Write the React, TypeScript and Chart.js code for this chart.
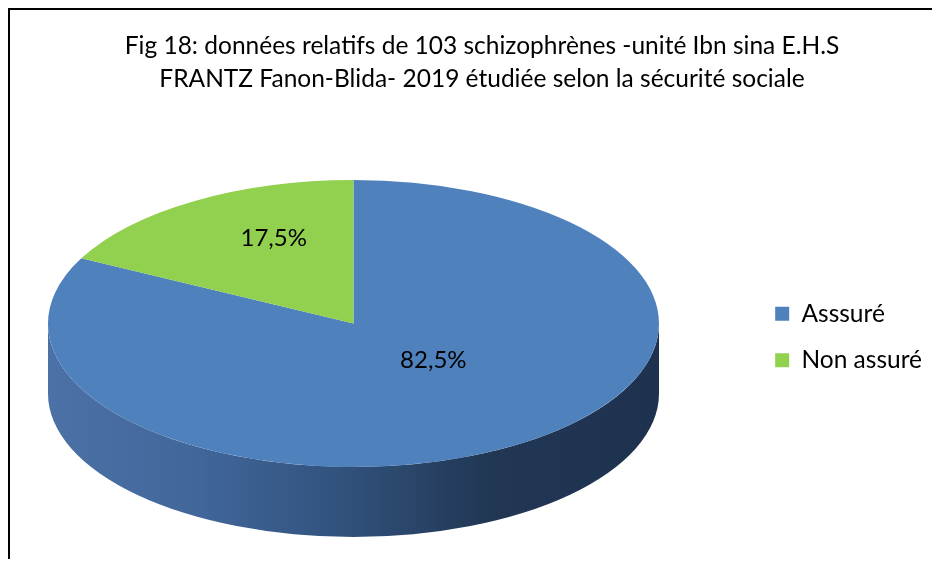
import React, { useEffect, useRef } from "react";
import { Chart, registerables } from "chart.js";

Chart.register(...registerables);

const categories = ["Asssuré", "Non assuré"];
const percentages = [82.5, 17.5];
const sliceColors = ["#4f81bd", "#92d050"];
const titleLines = [
  "Fig 18: données relatifs de 103 schizophrènes -unité Ibn sina E.H.S",
  "FRANTZ Fanon-Blida- 2019 étudiée selon la sécurité sociale",
];

const FONT = "Lato";
const CANVAS_W = 922;
const CANVAS_H = 549;

// 3D look of the pie (screen geometry, canvas coordinates)
const PIE_CX = 343.5;
const PIE_CY = 313.5;
const PIE_RX = 305.5;
const PIE_RY = 143.5;
const PIE_DEPTH = 70;
const LABEL_SHIFT_Y = -24;

const pie3d = {
  id: "pie3d",
  beforeDatasetsDraw(chart: any) {
    const meta = chart.getDatasetMeta(0);
    if (!meta.data.length) return;
    const ctx: CanvasRenderingContext2D = chart.ctx;
    const first = meta.data[0].getProps(["x", "y", "outerRadius"], true);
    const r = first.outerRadius;

    // side wall (front half of the cylinder)
    const grad = ctx.createLinearGradient(PIE_CX - PIE_RX, 0, PIE_CX + PIE_RX, 0);
    grad.addColorStop(0, "#4b71a6");
    grad.addColorStop(0.25, "#40669a");
    grad.addColorStop(0.5, "#30507a");
    grad.addColorStop(0.72, "#213754");
    grad.addColorStop(1, "#1e3250");
    ctx.save();
    meta.data.forEach((arc: any) => {
      const p = arc.getProps(["startAngle", "endAngle"], true);
      for (let k = -1; k <= 1; k++) {
        const lo = Math.max(p.startAngle, k * 2 * Math.PI);
        const hi = Math.min(p.endAngle, k * 2 * Math.PI + Math.PI);
        if (hi <= lo) continue;
        ctx.beginPath();
        ctx.ellipse(PIE_CX, PIE_CY, PIE_RX, PIE_RY, 0, lo, hi, false);
        ctx.lineTo(PIE_CX + PIE_RX * Math.cos(hi), PIE_CY + PIE_RY * Math.sin(hi) + PIE_DEPTH);
        ctx.ellipse(PIE_CX, PIE_CY + PIE_DEPTH, PIE_RX, PIE_RY, 0, hi, lo, true);
        ctx.closePath();
        ctx.fillStyle = arc.options.backgroundColor === sliceColors[0] ? grad : "#6a9a3a";
        ctx.fill();
      }
    });
    ctx.restore();

    // squash the library's pie into an ellipse
    ctx.save();
    ctx.translate(PIE_CX, PIE_CY);
    ctx.scale(PIE_RX / r, PIE_RY / r);
    ctx.translate(-first.x, -first.y);
  },
  afterDatasetsDraw(chart: any) {
    const meta = chart.getDatasetMeta(0);
    if (!meta.data.length) return;
    const ctx: CanvasRenderingContext2D = chart.ctx;
    ctx.restore();
    const first = meta.data[0].getProps(["x", "y", "outerRadius"], true);
    const r = first.outerRadius;
    ctx.save();
    ctx.font = `24px ${FONT}`;
    ctx.fillStyle = "#000";
    ctx.textAlign = "center";
    ctx.textBaseline = "middle";
    meta.data.forEach((arc: any, i: number) => {
      const pos = arc.tooltipPosition(true);
      const x = PIE_CX + ((pos.x - first.x) * PIE_RX) / r;
      const y = PIE_CY + ((pos.y - first.y) * PIE_RY) / r + LABEL_SHIFT_Y;
      const txt = percentages[i].toFixed(1).replace(".", ",") + "%";
      ctx.fillText(txt, x, y);
    });
    ctx.restore();
  },
};

export default function App() {
  const ref = useRef<HTMLCanvasElement>(null);
  useEffect(() => {
    if (!ref.current) return;
    const chart = new Chart(ref.current, {
      type: "pie",
      data: {
        labels: categories,
        datasets: [
          {
            data: percentages,
            backgroundColor: sliceColors,
            borderWidth: 0,
          },
        ],
      },
      options: {
        responsive: false,
        animation: false,
        layout: { padding: { left: 22, right: 0, top: 0, bottom: 0 } },
        plugins: {
          tooltip: { enabled: false },
          title: {
            display: true,
            text: titleLines,
            color: "#000",
            font: { family: FONT, size: 24.5, weight: "normal", lineHeight: 1.347 },
            padding: { top: 20, bottom: 19 },
          },
          legend: {
            position: "right",
            fullSize: false,
            labels: {
              color: "#000",
              boxWidth: 14,
              boxHeight: 14,
              padding: 22,
              font: { family: FONT, size: 24.5 },
            },
          },
        },
      },
      plugins: [pie3d],
    });
    return () => chart.destroy();
  }, []);
  return (
    <div
      style={{
        borderLeft: "2px solid #000",
        borderTop: "2px solid #000",
        width: CANVAS_W,
        height: CANVAS_H,
      }}
    >
      <canvas ref={ref} width={CANVAS_W} height={CANVAS_H} style={{ display: "block" }} />
    </div>
  );
}
